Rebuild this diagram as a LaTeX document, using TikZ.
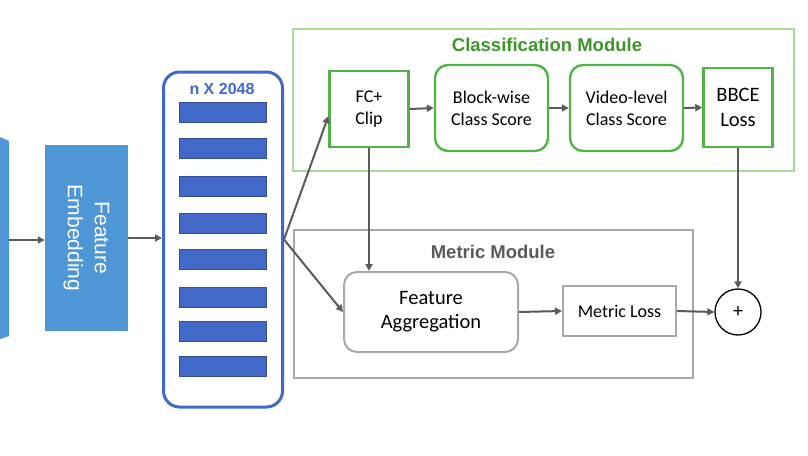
\documentclass[tikz,border=0pt]{standalone}
\usepackage{fontspec}
\setmainfont{Carlito}
\newfontfamily\headfont{Liberation Sans}
\usetikzlibrary{arrows.meta}
\definecolor{embblue}{RGB}{78,150,214}
\definecolor{barblue}{RGB}{66,104,200}
\definecolor{frameblue}{RGB}{66,104,204}
\definecolor{clsgreen}{RGB}{82,180,70}
\definecolor{lightgreen}{RGB}{164,222,152}
\definecolor{titlegreen}{RGB}{62,150,42}
\definecolor{boxgray}{RGB}{168,168,168}
\definecolor{linkgray}{RGB}{90,90,90}
\tikzset{
  link/.style = {draw = linkgray, line width = 2pt, -{Triangle[length=7pt,width=7pt]}},
  greenbox/.style = {draw = clsgreen, line width = 2.4pt, fill = white, align = center, inner sep = 0pt, font = \fontsize{18}{22}\selectfont},
  graybox/.style = {draw = boxgray, line width = 2pt, fill = white, align = center, inner sep = 0pt, font = \fontsize{18}{22}\selectfont},
  modframe/.style = {line width = 2.2pt, anchor = north west, inner sep = 0pt},
  bar/.style = {fill = barblue, draw = barblue!75!black, line width = 0.8pt, minimum width = 87, minimum height = 20, inner sep = 0pt}
}
\begin{document}
\begin{tikzpicture}[x=1pt, y=-1pt]
\useasboundingbox (0,0) rectangle (808,455);
\fill[embblue] (0,137) -- (9,141) -- (9,336) -- (0,339) -- cycle;
\coordinate (backbone) at (9,240);
\node[fill = embblue, rotate = -90, minimum width = 186, minimum height = 83, inner sep = 0pt, align = center, text = white, font = \headfont\fontsize{21}{27}\selectfont] (embed) at (86.5,238) {Feature\\Embedding};
\node[draw = frameblue, line width = 3pt, rounded corners = 16pt, minimum width = 119, minimum height = 335, inner sep = 0pt] (feats) at (223,239.5) {};
\node[text = frameblue, font = \headfont\bfseries\fontsize{16}{18}\selectfont] (featlabel) at (222,89) {n X 2048};
\foreach \t [count = \i] in {102,138,176,213,249,287,321,356} \node[bar] (bar\i) at (223,\t+10) {};
\node[modframe, draw = lightgreen, minimum width = 501, minimum height = 142] (clsmod) at (292,28) {};
\node[text = titlegreen, font = \headfont\bfseries\fontsize{18.5}{20}\selectfont] (clstitle) at (547,45) {Classification Module};
\node[modframe, draw = boxgray, minimum width = 399, minimum height = 148] (metricmod) at (293,229) {};
\node[text = linkgray, font = \headfont\bfseries\fontsize{18.5}{20}\selectfont] (metrictitle) at (493,252) {Metric Module};
\node[greenbox, minimum width = 79, minimum height = 76] (fc) at (369,109) {FC+\\Clip};
\node[greenbox, rounded corners = 13pt, minimum width = 113, minimum height = 86] (block) at (491.5,108) {Block-wise\\Class Score};
\node[greenbox, rounded corners = 13pt, minimum width = 113, minimum height = 86] (video) at (626.5,108) {Video-level\\Class Score};
\node[greenbox, minimum width = 69, minimum height = 79, font = \fontsize{20.5}{25}\selectfont] (bbce) at (738,107.5) {BBCE\\Loss};
\node[graybox, rounded corners = 13pt, minimum width = 174, minimum height = 80, font = \fontsize{20.5}{24}\selectfont] (agg) at (431,312) {Feature\\Aggregation};
\node[graybox, minimum width = 113, minimum height = 50] (mloss) at (619.5,311) {Metric Loss};
\node[circle, draw = black, line width = 1.3pt, minimum size = 46, inner sep = 0pt, font = \fontsize{20}{22}\selectfont] (plus) at (738,312) {+};
\draw[link] (backbone) -- (backbone -| embed.south);
\draw[link] (embed.north) -- (embed.north -| feats.west);
\draw[link] (feats.east) -- (fc.190);
\draw[link] (feats.east) -- (agg.west);
\draw[link] (fc.east) -- (block.west);
\draw[link] (block.east) -- (video.west);
\draw[link] (video.east) -- (bbce.west);
\draw[link] (fc.south) -- (fc.south |- agg.north);
\draw[link] (bbce.south) -- (bbce.south |- plus.north);
\draw[link] (agg.east) -- (mloss.west);
\draw[link] (mloss.east) -- (plus.west);
\end{tikzpicture}
\end{document}
